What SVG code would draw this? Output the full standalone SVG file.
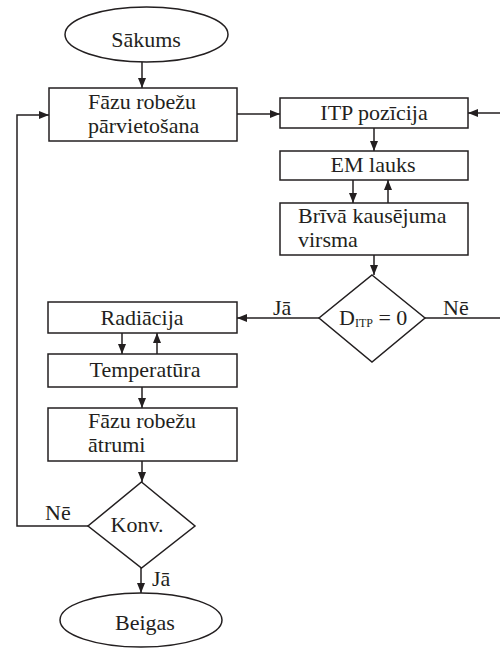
<svg xmlns="http://www.w3.org/2000/svg" width="500" height="648" viewBox="0 0 500 648">
<style>
.s{fill:#fff;stroke:#231f20;stroke-width:1.5}
.c{fill:none;stroke:#231f20;stroke-width:1.5}
text{font-family:'Liberation Serif','DejaVu Serif',serif;font-size:22px;fill:#231f20}
.m{text-anchor:middle}
</style>
<defs>
<marker id="a" viewBox="0 0 10 8" refX="10" refY="4" markerWidth="10" markerHeight="8" markerUnits="userSpaceOnUse" orient="auto">
<path d="M0,0 L10,4 L0,8 Z" fill="#231f20"/>
</marker>
</defs>
<rect width="500" height="648" fill="#fff"/>
<g id="connectors">
<path class="c" d="M142,62 V88" marker-end="url(#a)"/>
<path class="c" d="M237,114 H280" marker-end="url(#a)"/>
<path class="c" d="M425,318 H503 V113 H468" marker-end="url(#a)"/>
<path class="c" d="M374,128 V151" marker-end="url(#a)"/>
<path class="c" d="M353,180 V203" marker-end="url(#a)"/>
<path class="c" d="M388,203 V180" marker-end="url(#a)"/>
<path class="c" d="M374,255 V275" marker-end="url(#a)"/>
<path class="c" d="M319,318 H237" marker-end="url(#a)"/>
<path class="c" d="M122,333 V354" marker-end="url(#a)"/>
<path class="c" d="M157,354 V333" marker-end="url(#a)"/>
<path class="c" d="M142,387 V408" marker-end="url(#a)"/>
<path class="c" d="M142,461 V482" marker-end="url(#a)"/>
<path class="c" d="M88,526 H17 V115 H49" marker-end="url(#a)"/>
<path class="c" d="M141,568 V593" marker-end="url(#a)"/>
<text x="273" y="315">Jā</text>
<text x="443" y="315">Nē</text>
<text x="45" y="520">Nē</text>
<text x="152" y="586">Jā</text>
</g>
<g id="sakums">
<ellipse class="s" cx="146.5" cy="34.5" rx="81.5" ry="27.5"/>
<text class="m" x="146" y="47">Sākums</text>
</g>
<g id="fazu1">
<rect class="s" x="49" y="88" width="188" height="53"/>
<text x="88" y="109">Fāzu robežu</text>
<text x="88" y="133">pārvietošana</text>
</g>
<g id="itp">
<rect class="s" x="280" y="98" width="188" height="30"/>
<text class="m" x="374" y="120">ITP pozīcija</text>
</g>
<g id="em">
<rect class="s" x="280" y="151" width="188" height="29"/>
<text class="m" x="373" y="172">EM lauks</text>
</g>
<g id="briva">
<rect class="s" x="280" y="203" width="188" height="52"/>
<text x="298" y="223">Brīvā kausējuma</text>
<text x="298" y="247">virsma</text>
</g>
<g id="ditp">
<path class="s" d="M372,275 L425,318 L372,362 L319,318 Z"/>
<text x="339" y="325">D<tspan font-size="12" dy="2">ITP</tspan><tspan dy="-2"> = 0</tspan></text>
</g>
<g id="radiacija">
<rect class="s" x="48" y="302" width="189" height="31"/>
<text class="m" x="142" y="325">Radiācija</text>
</g>
<g id="temperatura">
<rect class="s" x="48" y="354" width="189" height="33"/>
<text class="m" x="145" y="377">Temperatūra</text>
</g>
<g id="fazu2">
<rect class="s" x="48" y="408" width="189" height="53"/>
<text x="88" y="428">Fāzu robežu</text>
<text x="88" y="452">ātrumi</text>
</g>
<g id="konv">
<path class="s" d="M141.5,482 L195,526 L141.5,568 L88,526 Z"/>
<text class="m" x="137" y="532">Konv.</text>
</g>
<g id="beigas">
<ellipse class="s" cx="141" cy="620" rx="81" ry="27"/>
<text class="m" x="145" y="630">Beigas</text>
</g>
</svg>
